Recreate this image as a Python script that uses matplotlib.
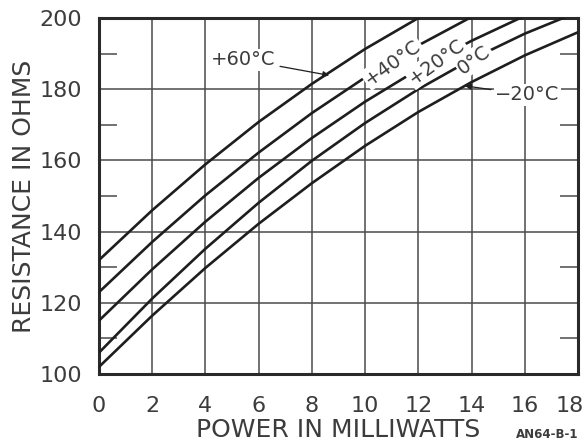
import numpy as np
import matplotlib
matplotlib.use("Agg")
import matplotlib.pyplot as plt
from matplotlib.transforms import ScaledTranslation

# ---- data ----
power_mw = [0, 2, 4, 6, 8, 10, 12, 14, 16, 18]
r_plus60 = [132, 146.0, 158.9, 170.8, 181.5, 191.3, 200.0, 207.6, 214.0, 219.0]
r_plus40 = [123, 137.1, 150.2, 162.2, 173.3, 183.3, 192.3, 200.3, 207.3, 213.0]
r_plus20 = [115, 129.4, 142.8, 155.1, 166.3, 176.5, 185.6, 193.6, 200.6, 206.5]
r_zero   = [106, 121.2, 135.2, 148.1, 159.9, 170.5, 180.0, 188.4, 195.6, 201.7]
r_minus20 = [102, 116.4, 129.8, 142.2, 153.6, 164.1, 173.6, 182.0, 189.5, 196.0]

x_ticks = [0, 2, 4, 6, 8, 10, 12, 14, 16, 18]
y_ticks = [100, 120, 140, 160, 180, 200]
y_minor = [110, 130, 150, 170, 190]

ink = "#1e1e1e"
grid_c = "#4a4a4a"
text_c = "#3c3c3c"

fig = plt.figure(figsize=(5.87, 4.47), dpi=100)
fig.patch.set_facecolor("white")
ax = fig.add_axes([99 / 587, 1 - 374 / 447, (578 - 99) / 587, (374 - 18) / 447])

ax.set_xlim(0, 18)
ax.set_ylim(100, 200)
ax.set_xticks(x_ticks)
ax.set_yticks(y_ticks)
ax.set_yticks(y_minor, minor=True)
ax.grid(True, which="major", color=grid_c, lw=1.1)
ax.set_axisbelow(True)

ax.tick_params(axis="both", which="major", length=0, labelsize=16, labelcolor=text_c)
ax.tick_params(axis="x", which="major", pad=16)
ax.tick_params(axis="y", which="major", pad=12)
ax.tick_params(axis="y", which="minor", direction="in", length=13, width=1.1,
               color=grid_c, left=True, right=True)

for s in ax.spines.values():
    s.set_linewidth(2.2)
    s.set_color("#2a2a2a")

series = [r_plus60, r_plus40, r_plus20, r_zero, r_minus20]
for r in series:
    ax.plot(power_mw, r, color=ink, lw=1.9, solid_capstyle="butt", zorder=3)

ax.set_ylabel("RESISTANCE IN OHMS", fontsize=18, color=text_c, labelpad=3)
ax.set_xlabel("POWER IN MILLIWATTS", fontsize=18, color=text_c, labelpad=1)

# keep the last x tick label inside the figure
fig.canvas.draw()
last = ax.get_xticklabels()[-1]
last.set_transform(last.get_transform() + ScaledTranslation(-8 / 100, 0, fig.dpi_scale_trans))

# inline curve labels
box = dict(boxstyle="square,pad=0.08", fc="white", ec="none")
lab_kw = dict(fontsize=14, color=text_c, ha="center", va="center", zorder=5)
ax.text(11.03, 187.6, "+40°C", rotation=36, bbox=box, **lab_kw)
ax.text(12.69, 187.8, "+20°C", rotation=36, bbox=box, **lab_kw)
ax.text(14.1, 188.3, "0°C", rotation=36, bbox=box, **lab_kw)

arrow = dict(arrowstyle="-|>", color=ink, lw=0.9, mutation_scale=9, shrinkA=2, shrinkB=0)
ax.annotate("+60°C", xy=(8.65, np.interp(8.65, power_mw, r_plus60) - 0.8),
            xytext=(5.43, 188.3), textcoords="data", arrowprops=arrow,
            fontsize=14, color=text_c, ha="center", va="center", zorder=5,
            bbox=box)
ax.annotate("\u221220°C", xy=(13.75, np.interp(13.75, power_mw, r_minus20)),
            xytext=(16.1, 178.4), textcoords="data", arrowprops=arrow,
            fontsize=14, color=text_c, ha="center", va="center", zorder=5,
            bbox=box)

fig.text(0.985, 0.028, "AN64-B-1", fontsize=8.5, color=text_c, ha="right", va="center",
         fontweight="bold")

fig.savefig("out.png", dpi=100, facecolor="white")
